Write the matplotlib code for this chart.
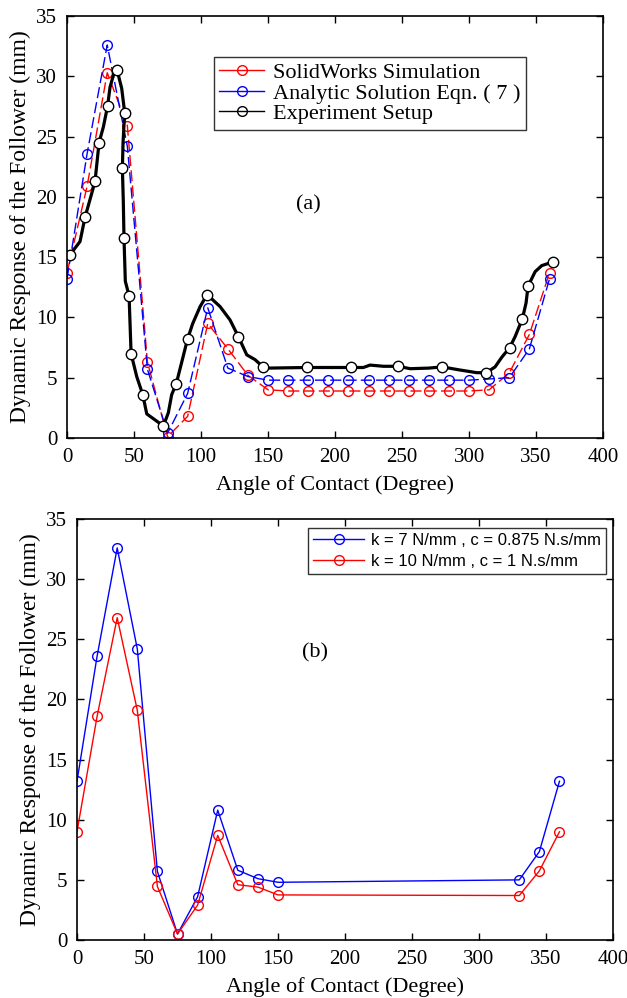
import numpy as np
import matplotlib

matplotlib.use("Agg")
import matplotlib.pyplot as plt
from matplotlib.lines import Line2D

plt.rcParams["font.family"] = "Liberation Serif"

# (a) simulation vs analytic vs experiment
angles_a = [0, 15, 30, 45, 60, 75, 90, 105, 120, 135, 150, 165, 180,
            195, 210, 225, 240, 255, 270, 285, 300, 315, 330, 345, 360]
solidworks = [13.7, 20.9, 30.3, 25.9, 6.3, 0.1, 1.8, 9.5, 7.4, 5.2, 4.0, 3.9, 3.9,
              3.9, 3.9, 3.9, 3.9, 3.9, 3.9, 3.9, 3.9, 4.0, 5.4, 8.6, 13.7]
analytic = [13.2, 23.6, 32.6, 24.2, 5.7, 0.4, 3.7, 10.8, 5.8, 5.1, 4.8, 4.8, 4.8,
            4.8, 4.8, 4.8, 4.8, 4.8, 4.8, 4.8, 4.8, 4.9, 5.0, 7.4, 13.2]

exp_angle = [2.2, 9.7, 13.4, 17.7, 20.9, 23.9, 27.1, 30.2, 32.1, 34.6, 37.4, 40.8,
             43.0, 41.8, 41.3, 42.0, 42.5, 43.5, 46.3, 47.8, 52.0, 56.5, 59.5, 65.7,
             71.9, 75.6, 78.1, 81.5, 85.6, 89.9, 93.8, 99.3, 104.5, 114.2, 121.6, 127.9,
             134.1, 140.3, 146.2, 150.0, 178.9, 212.0, 221.1, 226.1, 236.1, 247.2, 256.0,
             270.0, 279.8, 293.3, 305.7, 312.9, 319.4, 324.4, 330.3, 334.3, 339.8, 342.5,
             344.0, 349.3, 354.2, 362.3]
exp_resp = [15.2, 16.3, 18.3, 20.0, 21.3, 24.5, 25.8, 27.5, 29.1, 30.1, 30.5, 29.0,
            27.0, 24.5, 22.4, 19.6, 16.6, 13.0, 11.8, 7.0, 5.1, 3.6, 2.0, 1.5,
            1.0, 2.1, 3.6, 4.5, 6.3, 8.2, 9.5, 10.9, 11.9, 10.9, 9.8, 8.4,
            6.9, 6.5, 5.9, 5.8, 5.85, 5.85, 5.85, 6.05, 5.95, 5.95, 5.75,
            5.8, 5.9, 5.64, 5.42, 5.42, 5.9, 6.7, 7.5, 8.4, 9.9, 11.2,
            12.6, 13.8, 14.3, 14.6]
exp_marked = [0, 2, 4, 5, 7, 10, 12, 14, 16, 18, 19, 21, 24, 27, 29, 32, 35, 38,
              40, 41, 45, 48, 51, 54, 56, 58, 61]

# (b) two spring / damper settings
angles_b = [0, 15, 30, 45, 60, 75, 90, 105, 120, 135, 150, 330, 345, 360]
resp_k7 = [13.2, 23.6, 32.6, 24.2, 5.7, 0.5, 3.6, 10.8, 5.8, 5.1, 4.8, 5.0, 7.35, 13.2]
resp_k10 = [9.0, 18.6, 26.8, 19.1, 4.45, 0.5, 2.9, 8.7, 4.6, 4.4, 3.75, 3.7, 5.75, 9.0]

labels_a = ["SolidWorks Simulation", "Analytic Solution Eqn. ( 7 )", "Experiment Setup"]
labels_b = ["k = 7 N/mm , c = 0.875 N.s/mm", "k = 10 N/mm , c = 1 N.s/mm"]

ylabel = "Dynamic Response of the Follower (mm)"
xlabel = "Angle of Contact (Degree)"


def style_axes(ax):
    ax.set_xlim(0, 400)
    ax.set_ylim(0, 35)
    ax.set_xticks(np.arange(0, 401, 50))
    ax.set_yticks(np.arange(0, 36, 5))
    ax.tick_params(direction="in", top=True, right=True, length=5, width=1,
                   labelsize=15, pad=7)
    for sp in ax.spines.values():
        sp.set_linewidth(1.2)
    ax.set_xlabel(xlabel, fontsize=16, labelpad=6)
    ax.set_ylabel(ylabel, fontsize=17, labelpad=4)


fig = plt.figure(figsize=(6.27, 9.98), dpi=100)
ax1 = fig.add_axes([0.1069, 0.5611, 0.855, 0.4228])
ax2 = fig.add_axes([0.1228, 0.0581, 0.855, 0.4218])

dash = (0, (8, 3))
ax1.plot(angles_a, solidworks, color="red", lw=1, ls=dash, marker="o", ms=7,
         mfc="none", mec="red", mew=1)
ax1.plot(angles_a, analytic, color="blue", lw=1, ls=dash, marker="o", ms=7,
         mfc="none", mec="blue", mew=1)
ax1.plot(exp_angle, exp_resp, color="black", lw=2.3, marker="o", ms=7.5,
         mfc="white", mec="black", mew=1, markevery=exp_marked)
style_axes(ax1)
ax1.text(180, 19.3, "(a)", fontsize=16, ha="center", va="center")

handles_a = [
    Line2D([], [], color="red", lw=1, marker="o", ms=7, mfc="none", mec="red"),
    Line2D([], [], color="blue", lw=1, marker="o", ms=7, mfc="none", mec="blue"),
    Line2D([], [], color="black", lw=1, marker="o", ms=7, mfc="none", mec="black"),
]
leg1 = ax1.legend(handles_a, labels_a, loc="upper left", bbox_to_anchor=(0.274, 0.903),
                  borderaxespad=0, fontsize=16, frameon=True, fancybox=False,
                  handlelength=2.0, handletextpad=0.4, labelspacing=0.0,
                  borderpad=0.25)
leg1.get_frame().set_edgecolor("black")
leg1.get_frame().set_linewidth(1.0)

ax2.plot(angles_b, resp_k7, color="blue", lw=1, marker="o", ms=7, mfc="none",
         mec="blue", mew=1, label=labels_b[0])
ax2.plot(angles_b, resp_k10, color="red", lw=1, marker="o", ms=7, mfc="none",
         mec="red", mew=1, label=labels_b[1])
style_axes(ax2)
ax2.text(177.6, 23.9, "(b)", fontsize=16, ha="center", va="center")
leg2 = ax2.legend(loc="upper right", bbox_to_anchor=(0.987, 0.979), borderaxespad=0,
                  prop={"family": "Liberation Sans", "size": 12}, frameon=True,
                  fancybox=False, handlelength=3.1, handletextpad=0.4,
                  labelspacing=0.35, borderpad=0.3)
leg2.get_frame().set_edgecolor("black")
leg2.get_frame().set_linewidth(1.0)

fig.savefig("out.png", dpi=100)
